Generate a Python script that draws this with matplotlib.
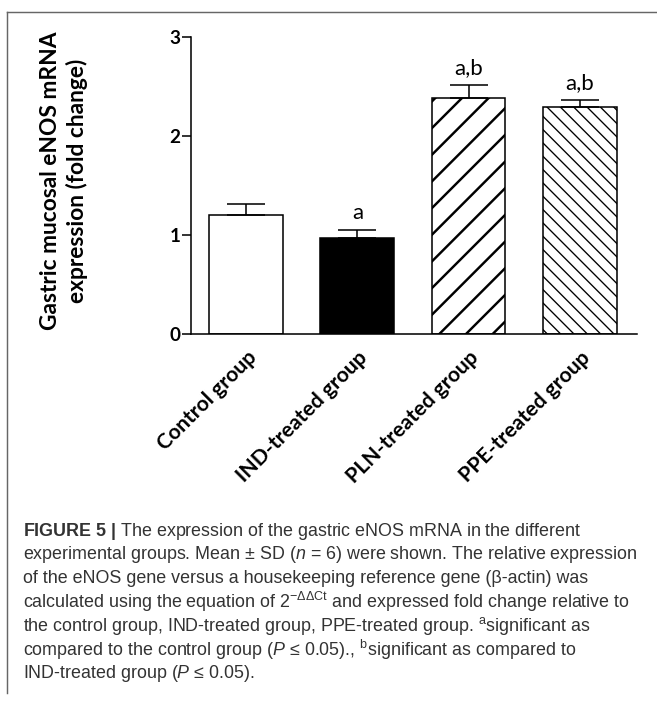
import matplotlib
matplotlib.use("Agg")
import matplotlib.pyplot as plt
from matplotlib.lines import Line2D
import numpy as np

# ---- data ----
categories = ["Control group", "IND-treated group", "PLN-treated group", "PPE-treated group"]
means = [1.20, 0.97, 2.38, 2.29]
sds = [0.11, 0.08, 0.13, 0.07]
sig_labels = ["", "a", "a,b", "a,b"]
yticks = [0, 1, 2, 3]
caption_lines = [
    r"$\mathbf{FIGURE\ 5\ |}$ The expression of the gastric eNOS mRNA in the different",
    r"experimental groups. Mean ± SD ($n$ = 6) were shown. The relative expression",
    "of the eNOS gene versus a housekeeping reference gene (β-actin) was",
    r"calculated using the equation of 2$^{-\Delta\Delta \mathrm{Ct}}$ and expressed fold change relative to",
    r"the control group, IND-treated group, PPE-treated group. $^{\mathrm{a}}$significant as",
    r"compared to the control group ($P$ ≤ 0.05)., $^{\mathrm{b}}$significant as compared to",
    r"IND-treated group ($P$ ≤ 0.05).",
]

# ---- styles ----
faces = ["white", "black", "white", "white"]
hatches = [None, None, "/", "\\\\"]
hatch_lws = [1.0, 1.0, 2.2, 1.2]

DPI = 80
W, H = 657, 702
plt.rcParams["mathtext.fontset"] = "custom"
plt.rcParams["mathtext.rm"] = "Liberation Sans"
plt.rcParams["mathtext.it"] = "Liberation Sans:italic"
plt.rcParams["mathtext.bf"] = "Liberation Sans:bold"
plt.rcParams["font.family"] = ["Lato", "DejaVu Sans"]

fig = plt.figure(figsize=(W / DPI, H / DPI), dpi=DPI)
fig.patch.set_facecolor("white")

ax_l, ax_r = 190.5 / W, 636.5 / W
ax_b, ax_t = 1 - 334.3 / H, 1 - 36.7 / H
ax = fig.add_axes([ax_l, ax_b, ax_r - ax_l, ax_t - ax_b])

x = np.arange(len(categories))
bars = ax.bar(x, means, width=0.663, color=faces, edgecolor="black", linewidth=1.4, zorder=2)
for b, h, hl in zip(bars, hatches, hatch_lws):
    if h:
        b.set_hatch(h)
        if hasattr(b, "set_hatch_linewidth"):
            b.set_hatch_linewidth(hl)

ax.errorbar(x, means, yerr=[np.zeros(len(sds)), sds], fmt="none", ecolor="black",
            elinewidth=1.4, capsize=17, capthick=1.4, zorder=3)

for xi, m, s, lab in zip(x, means, sds, sig_labels):
    if lab:
        ax.annotate(lab, (xi, m + s), xytext=(0, 10), textcoords="offset points",
                    ha="center", va="baseline", fontsize=20, color="black")

ax.set_xlim(-0.5, 3.51)
ax.set_ylim(0, 3)
ax.set_yticks(yticks)
ax.set_yticklabels([str(t) for t in yticks], fontsize=17, fontweight="bold")
ax.tick_params(axis="y", length=8, width=1.4, pad=1)
ax.set_xticks(x)
ax.set_xticklabels(categories, rotation=45, ha="right", va="top", rotation_mode="anchor",
                   fontsize=19, fontweight="bold")
ax.tick_params(axis="x", length=0, pad=12)
for sp in ["top", "right"]:
    ax.spines[sp].set_visible(False)
for sp in ["left", "bottom"]:
    ax.spines[sp].set_linewidth(1.4)

fig.text(64 / W, 1 - 181 / H, "Gastric mucosal eNOS mRNA\nexpression (fold change)",
         rotation=90, ha="center", va="center", multialignment="center",
         fontsize=20.5, fontweight="bold", linespacing=1.3)

# frame
fig.add_artist(Line2D([7 / W, 1], [1 - 12 / H, 1 - 12 / H], transform=fig.transFigure,
                      color="#666666", linewidth=1.3))
fig.add_artist(Line2D([7 / W, 7 / W], [1 - 12 / H, 1 - 693 / H], transform=fig.transFigure,
                      color="#666666", linewidth=1.3))

# caption
y0 = 531
for i, line in enumerate(caption_lines):
    fig.text(23 / W, 1 - (y0 + i * 23.7) / H, line, ha="left", va="center",
             fontsize=16.1, family="Liberation Sans", color="#333333")

fig.savefig("out.png", dpi=DPI, facecolor="white")
